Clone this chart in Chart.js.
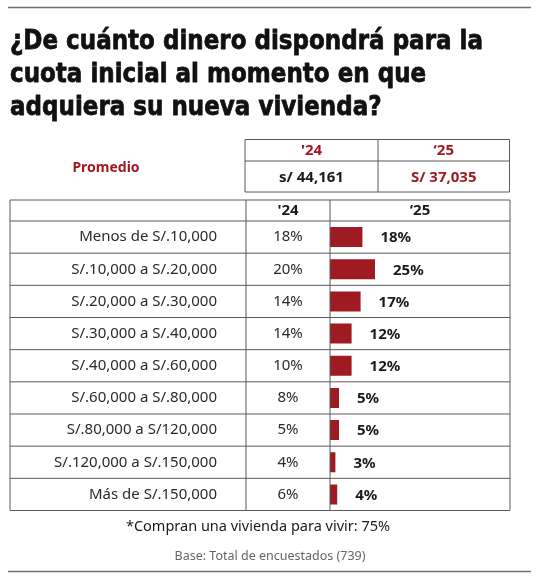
<!DOCTYPE html>
<html>
<head>
<meta charset="utf-8">
<script src="https://cdn.jsdelivr.net/npm/chart.js@4.4.1/dist/chart.umd.min.js"></script>
<style>
  html, body { margin: 0; padding: 0; background: #fff; }
  #wrap { width: 537px; height: 582px; position: relative; }
</style>
</head>
<body>
<div id="wrap"><canvas id="cuota-chart"></canvas></div>
<script>
// datos del gráfico
const titleLines = ["¿De cuánto dinero dispondrá para la", "cuota inicial al momento en que", "adquiera su nueva vivienda?"];
const categories = [
  "Menos de S/.10,000",
  "S/.10,000 a S/.20,000",
  "S/.20,000 a S/.30,000",
  "S/.30,000 a S/.40,000",
  "S/.40,000 a S/.60,000",
  "S/.60,000 a S/.80,000",
  "S/.80,000 a S/120,000",
  "S/.120,000 a S/.150,000",
  "Más de S/.150,000"
];
const values24 = [18, 20, 14, 14, 10, 8, 5, 4, 6];
const values25 = [18, 25, 17, 12, 12, 5, 5, 3, 4];
const yearLabels = ["'24", "‘25"];
const averageLabel = "Promedio";
const averages = ["s/ 44,161", "S/ 37,035"];
const footNote = "*Compran una vivienda para vivir: 75%";
const baseNote = "Base: Total de encuestados (739)";

const RED = "#9e1b23";
const LINE = "#5a5a5a";
const BODY = "'Noto Sans', 'Open Sans', sans-serif";
const TITLE = "'DejaVu Sans', sans-serif";

const ctx = document.querySelector("#cuota-chart").getContext("2d");

const hline = (c, x1, x2, y, w) => {
  c.beginPath();
  c.lineWidth = w || 1;
  c.moveTo(x1, y);
  c.lineTo(x2, y);
  c.stroke();
};
const vline = (c, x, y1, y2) => {
  c.beginPath();
  c.lineWidth = 1;
  c.moveTo(x, y1);
  c.lineTo(x, y2);
  c.stroke();
};

// dibuja título, tablas y textos alrededor de las barras
const tablePlugin = {
  id: "tablePlugin",
  afterDatasetsDraw(chart) {
    const c = chart.ctx;
    const area = chart.chartArea;
    const y = chart.scales.y;
    const step = (area.bottom - area.top) / categories.length;
    const left = 10, col1 = 246, col2 = area.left, right = area.right;
    const headTop = area.top - 21;

    c.save();

    // reglas superior e inferior
    c.strokeStyle = "#6e6e6e";
    hline(c, 8, 531, 7.5, 1.5);
    hline(c, 8, 531, 571.5, 1.5);

    // título (comprimido a lo ancho como la tipografía original)
    c.fillStyle = "#111";
    c.strokeStyle = "#111";
    c.lineWidth = 0.8;
    c.lineJoin = "round";
    c.font = "bold 27px " + TITLE;
    c.textAlign = "left";
    c.textBaseline = "alphabetic";
    const sx = 473 / c.measureText(titleLines[0]).width;
    titleLines.forEach((t, i) => {
      c.save();
      c.translate(10, 48.5 + i * 33.3);
      c.scale(sx, 1);
      c.fillText(t, 0, 0);
      c.strokeText(t, 0, 0);
      c.restore();
    });

    // tabla de promedio
    c.strokeStyle = LINE;
    const pL = 245, pM = 378, pR = 509.5, pT = 139.5, pMid = 161, pB = 192;
    hline(c, pL, pR, pT);
    hline(c, pL, pR, pMid);
    hline(c, pL, pR, pB);
    vline(c, pL, pT, pB);
    vline(c, pM, pT, pB);
    vline(c, pR, pT, pB);

    c.textAlign = "center";
    c.textBaseline = "middle";
    c.font = "bold 15px " + BODY;
    c.fillStyle = RED;
    c.fillText(yearLabels[0], (pL + pM) / 2, (pT + pMid) / 2);
    c.fillText(yearLabels[1], (pM + pR) / 2, (pT + pMid) / 2);
    c.fillStyle = "#1a1a1a";
    c.fillText(averages[0], (pL + pM) / 2, (pMid + pB) / 2 + 1);
    c.fillStyle = RED;
    c.fillText(averages[1], (pM + pR) / 2, (pMid + pB) / 2 + 1);
    c.font = "bold 14px " + BODY;
    c.fillText(averageLabel, 106, 168);

    // tabla principal
    c.strokeStyle = LINE;
    hline(c, left, right, headTop);
    hline(c, left, right, area.top);
    categories.forEach((_, i) => hline(c, left, right, area.top + (i + 1) * step));
    vline(c, left, headTop, area.bottom);
    vline(c, col1, headTop, area.bottom);
    vline(c, col2, headTop, area.bottom);
    vline(c, right, headTop, area.bottom);

    c.fillStyle = "#1a1a1a";
    c.font = "bold 15px " + BODY;
    c.fillText(yearLabels[0], (col1 + col2) / 2, headTop + 10.5);
    c.fillText(yearLabels[1], (col2 + right) / 2, headTop + 10.5);

    const meta = chart.getDatasetMeta(0);
    categories.forEach((cat, i) => {
      const cy = y.getPixelForValue(i);
      c.font = "15px " + BODY;
      c.fillStyle = "#2a2a2a";
      c.textAlign = "right";
      c.fillText(cat, 217, cy);
      c.textAlign = "center";
      c.fillText(values24[i] + "%", (col1 + col2) / 2, cy);
      c.textAlign = "left";
      c.font = "bold 15px " + BODY;
      c.fillStyle = "#1a1a1a";
      c.fillText(values25[i] + "%", meta.data[i].x + 18, cy + 1);
    });

    // notas
    c.textAlign = "center";
    c.font = "14.5px " + BODY;
    c.fillStyle = "#1a1a1a";
    c.fillText(footNote, 258, 527);
    c.font = "12.5px " + BODY;
    c.fillStyle = "#666";
    c.fillText(baseNote, 270, 556);
    c.restore();
  }
};

new Chart(ctx, {
  type: "bar",
  data: {
    labels: categories,
    datasets: [
      {
        label: yearLabels[1],
        data: values25,
        backgroundColor: RED,
        borderWidth: 0,
        barPercentage: 0.62,
        categoryPercentage: 1
      }
    ]
  },
  options: {
    indexAxis: "y",
    responsive: true,
    maintainAspectRatio: false,
    animation: false,
    layout: { padding: { left: 330, right: 27, top: 221, bottom: 71.5 } },
    scales: {
      x: { display: false, min: 0, max: 100 },
      y: { display: false }
    },
    plugins: {
      legend: { display: false },
      tooltip: { enabled: false }
    }
  },
  plugins: [tablePlugin]
});
</script>
</body>
</html>
